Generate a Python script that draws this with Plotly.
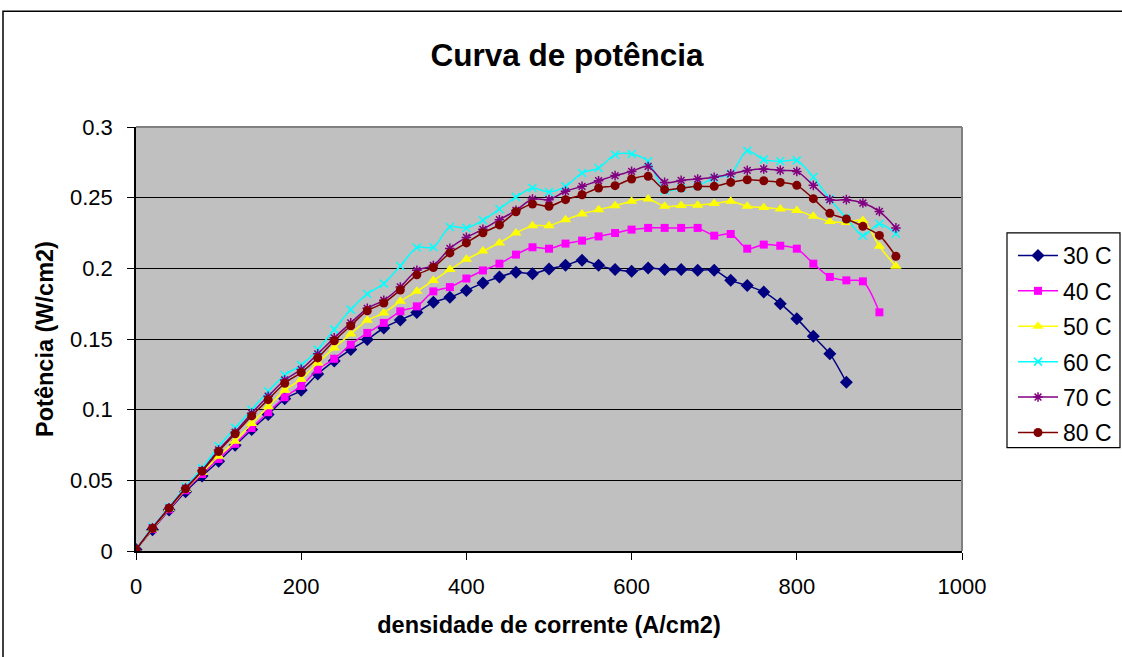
import plotly.graph_objects as go

# Current density (A/cm2), sampled every 20 A/cm2
densidade = [0, 20, 40, 60, 80, 100, 120, 140, 160, 180, 200, 220, 240, 260, 280,
             300, 320, 340, 360, 380, 400, 420, 440, 460, 480, 500, 520, 540, 560,
             580, 600, 620, 640, 660, 680, 700, 720, 740, 760, 780, 800, 820, 840,
             860, 880, 900, 920]

# Power density (W/cm2) for each cell temperature
p30 = [0.001, 0.015, 0.029, 0.042, 0.053, 0.0635, 0.0748, 0.0859, 0.0965, 0.1077,
       0.1137, 0.1252, 0.1345, 0.1425, 0.1496, 0.1578, 0.1635, 0.1687, 0.176, 0.1795,
       0.1844, 0.1897, 0.1939, 0.1972, 0.1962, 0.1996, 0.2021, 0.2057, 0.2021, 0.1991,
       0.1979, 0.2003, 0.1991, 0.1991, 0.1986, 0.1986, 0.1915, 0.1878, 0.1833, 0.175,
       0.1644, 0.1519, 0.1395, 0.1194]
p40 = [0.001, 0.0155, 0.0295, 0.043, 0.0545, 0.0652, 0.0758, 0.0871, 0.0982, 0.1088,
       0.1168, 0.1284, 0.136, 0.146, 0.1543, 0.1614, 0.1696, 0.1731, 0.1837, 0.1867,
       0.1928, 0.1985, 0.2033, 0.2097, 0.2149, 0.2139, 0.2175, 0.2196, 0.2226, 0.225,
       0.2274, 0.2286, 0.2286, 0.2286, 0.2286, 0.2231, 0.2243, 0.2139, 0.2168, 0.216,
       0.2139, 0.2033, 0.1939, 0.1915, 0.1908, 0.1689]
p50 = [0.001, 0.0155, 0.030, 0.0435, 0.0555, 0.067, 0.0777, 0.0902, 0.102, 0.1138,
       0.1215, 0.1331, 0.1437, 0.1536, 0.1632, 0.1684, 0.1767, 0.1837, 0.1914, 0.1991,
       0.2064, 0.2122, 0.218, 0.225, 0.2302, 0.2302, 0.2344, 0.2385, 0.2415, 0.2443,
       0.2474, 0.2491, 0.2439, 0.2445, 0.2447, 0.2458, 0.2474, 0.2439, 0.2431, 0.242,
       0.241, 0.2368, 0.2332, 0.2325, 0.2339, 0.2156, 0.2014]
p60 = [0.001, 0.017, 0.031, 0.0455, 0.0585, 0.0741, 0.0871, 0.100, 0.113, 0.1245,
       0.1315, 0.1425, 0.1568, 0.1708, 0.1819, 0.1892, 0.2017, 0.2147, 0.2149, 0.2293,
       0.2286, 0.234, 0.242, 0.2505, 0.2569, 0.254, 0.258, 0.2675, 0.271, 0.2804,
       0.2809, 0.2757, 0.2551, 0.2568, 0.2585, 0.2639, 0.2668, 0.2832, 0.2769, 0.2757,
       0.2764, 0.2646, 0.2491, 0.2356, 0.2231, 0.2316, 0.2245]
p70 = [0.001, 0.0165, 0.0305, 0.0445, 0.057, 0.0715, 0.084, 0.0975, 0.1095, 0.121,
       0.1285, 0.1395, 0.1508, 0.1614, 0.1717, 0.1774, 0.1868, 0.1986, 0.202, 0.2141,
       0.2219, 0.2276, 0.2344, 0.241, 0.249, 0.2486, 0.2545, 0.258, 0.262, 0.2656,
       0.2686, 0.2721, 0.2608, 0.2622, 0.2632, 0.2644, 0.2668, 0.2693, 0.2703, 0.2693,
       0.2686, 0.2587, 0.2486, 0.2486, 0.2462, 0.2403, 0.2286]
p80 = [0.001, 0.016, 0.0303, 0.044, 0.0564, 0.0704, 0.0829, 0.0956, 0.1071, 0.1187,
       0.1263, 0.1366, 0.1488, 0.1594, 0.170, 0.1755, 0.1847, 0.1954, 0.2006, 0.2109,
       0.218, 0.2252, 0.2307, 0.240, 0.2455, 0.2439, 0.2486, 0.2521, 0.2568, 0.2585,
       0.2632, 0.2651, 0.2557, 0.2568, 0.258, 0.258, 0.2608, 0.2627, 0.262, 0.2608,
       0.2587, 0.2493, 0.2389, 0.2349, 0.2297, 0.2233, 0.2085]

series_names = ["30 C", "40 C", "50 C", "60 C", "70 C", "80 C"]
series_values = [p30, p40, p50, p60, p70, p80]
series_colors = ["#000080", "#FF00FF", "#FFFF00", "#00FFFF", "#800080", "#800000"]
series_symbols = ["diamond", "square", "triangle-up", "x-thin", "asterisk", "circle"]
series_sizes = [10, 8, 10, 8, 8, 9]

x_ticks = [0, 200, 400, 600, 800, 1000]
y_ticks = [0, 0.05, 0.1, 0.15, 0.2, 0.25, 0.3]
y_tick_text = ["0", "0.05", "0.1", "0.15", "0.2", "0.25", "0.3"]

FONT = "Arial, Liberation Sans, sans-serif"

fig = go.Figure()
for name, vals, col, sym, sz in zip(series_names, series_values, series_colors,
                                    series_symbols, series_sizes):
    open_sym = sym in ("x-thin", "asterisk")
    fig.add_trace(go.Scatter(
        x=densidade[:len(vals)], y=vals, name=name, legendgroup=name,
        mode="lines+markers",
        line=dict(color=col, width=1.5, shape="spline", smoothing=0.8),
        marker=dict(symbol=sym, size=sz, color=col,
                    line=dict(color=col, width=1.5 if open_sym else 0)),
    ))

# plot-area geometry in pixels
W, H = 1122, 657
L, R, T, B = 136, 962, 127, 551.5
pw, ph = R - L, B - T


def px_x(px):
    return (px - L) / pw


def px_y(py):
    return (B - py) / ph


fig.update_layout(
    width=W, height=H,
    margin=dict(l=L, r=W - R, t=T, b=H - B, pad=0, autoexpand=False),
    paper_bgcolor="white", plot_bgcolor="#C0C0C0",
    font=dict(family=FONT, color="black", size=22),
    title=dict(text="<b>Curva de potência</b>", font=dict(size=31.5, family=FONT),
               x=567 / W, xref="container", xanchor="center",
               y=1 - 55 / H, yref="container", yanchor="middle"),
    showlegend=True,
    legend=dict(x=1013 / W, y=1 - 234 / H, xref="container", yref="container",
                xanchor="left", yanchor="top",
                bgcolor="rgba(0,0,0,0)", borderwidth=0,
                font=dict(size=23, family=FONT), tracegroupgap=2.5,
                itemwidth=40, traceorder="grouped"),
    xaxis=dict(range=[0, 1000], tickvals=x_ticks, showgrid=False, zeroline=False,
               showline=True, linecolor="black", linewidth=1.5,
               ticks="outside", ticklen=7, tickcolor="black", tickwidth=1,
               ticklabelstandoff=8, tickfont=dict(size=22), automargin=False,
               title=dict(text="<b>densidade de corrente (A/cm2)</b>",
                          font=dict(size=23.5), standoff=18)),
    yaxis=dict(range=[0, 0.3], tickvals=y_ticks, ticktext=y_tick_text,
               showgrid=True, gridcolor="black", gridwidth=1, zeroline=False,
               showline=True, linecolor="black", linewidth=1.5,
               ticks="outside", ticklen=7, tickcolor="black", tickwidth=1,
               ticklabelstandoff=10, tickfont=dict(size=22), automargin=False,
               title=dict(text="<b>Potência (W/cm2)</b>",
                          font=dict(size=23.5), standoff=10)),
    shapes=[
        # outer chart frame
        dict(type="rect", xref="paper", yref="paper",
             x0=px_x(3), x1=px_x(1130), y0=px_y(665), y1=px_y(11),
             line=dict(color="black", width=1.5), fillcolor="rgba(0,0,0,0)",
             layer="below"),
        # legend box
        dict(type="rect", xref="paper", yref="paper",
             x0=px_x(1007), x1=px_x(1120), y0=px_y(448), y1=px_y(233),
             line=dict(color="black", width=1.2), fillcolor="white",
             layer="below"),
        # gray top and right edges of the plot area
        dict(type="line", xref="paper", yref="paper", x0=0, x1=1, y0=1, y1=1,
             line=dict(color="#808080", width=2), layer="above"),
        dict(type="line", xref="paper", yref="paper", x0=1, x1=1, y0=0, y1=1,
             line=dict(color="#808080", width=2), layer="above"),
    ],
)

fig.write_html("out.html")
